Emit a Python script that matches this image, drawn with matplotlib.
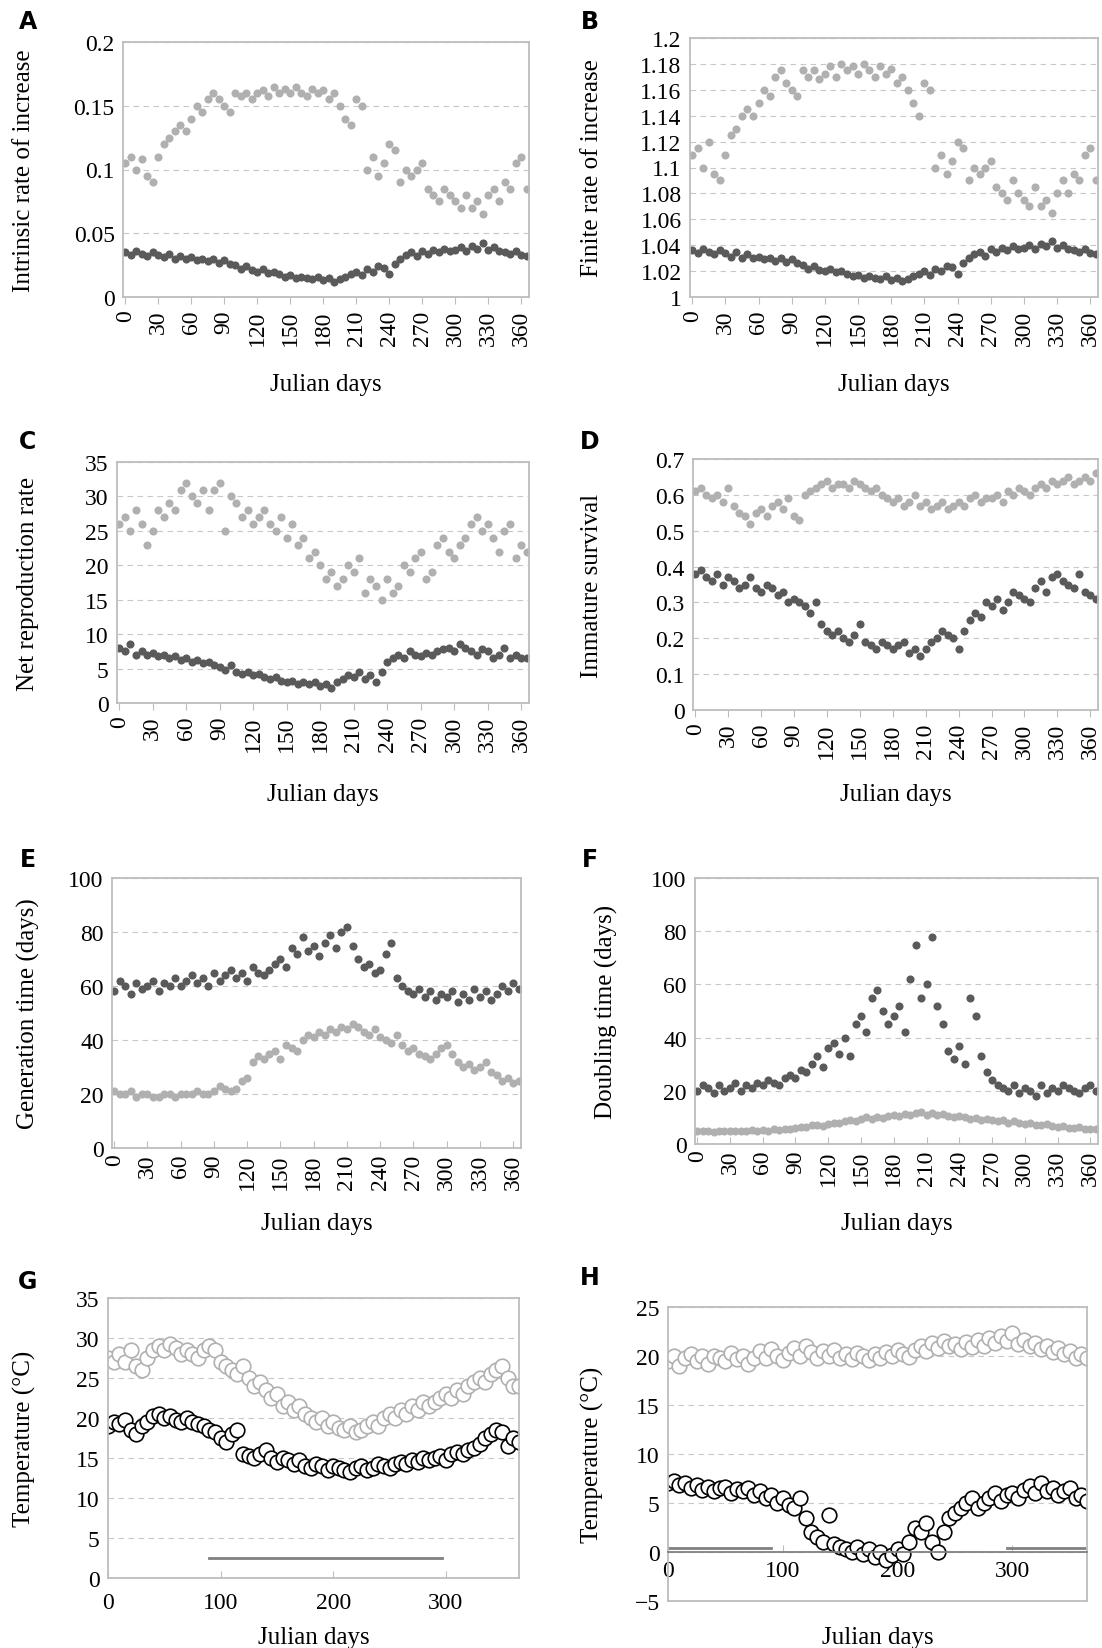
import numpy as np
import matplotlib
matplotlib.use("Agg")
import matplotlib.pyplot as plt

plt.rcParams['font.family'] = 'serif'
plt.rcParams['font.serif'] = ['Liberation Serif', 'DejaVu Serif']

A_light = [0.105,0.11,0.1,0.108,0.095,0.09,0.11,0.12,0.125,0.13,0.135,0.13,0.14,0.15,0.145,0.155,0.16,0.155,0.15,0.145,0.16,0.158,0.16,0.155,0.16,0.162,0.158,0.165,0.16,0.163,0.16,0.165,0.16,0.158,0.163,0.16,0.162,0.155,0.16,0.15,0.14,0.135,0.155,0.15,0.1,0.11,0.095,0.105,0.12,0.115,0.09,0.1,0.095,0.1,0.105,0.085,0.08,0.075,0.085,0.08,0.075,0.07,0.08,0.07,0.075,0.065,0.08,0.085,0.075,0.09,0.085,0.105,0.11,0.085]
A_dark = [0.035,0.033,0.036,0.034,0.032,0.035,0.033,0.031,0.034,0.03,0.032,0.03,0.031,0.029,0.03,0.028,0.03,0.027,0.029,0.026,0.025,0.022,0.024,0.021,0.02,0.022,0.019,0.02,0.018,0.016,0.017,0.015,0.016,0.015,0.014,0.016,0.013,0.015,0.012,0.014,0.016,0.018,0.02,0.017,0.022,0.02,0.024,0.023,0.018,0.026,0.03,0.033,0.035,0.032,0.036,0.034,0.037,0.035,0.038,0.036,0.037,0.039,0.036,0.04,0.038,0.042,0.037,0.039,0.036,0.035,0.034,0.036,0.033,0.032]
B_light = [1.11,1.115,1.1,1.12,1.095,1.09,1.11,1.125,1.13,1.14,1.145,1.14,1.15,1.16,1.155,1.17,1.175,1.165,1.16,1.155,1.175,1.17,1.175,1.168,1.172,1.178,1.17,1.18,1.175,1.178,1.172,1.18,1.175,1.17,1.178,1.172,1.176,1.165,1.17,1.16,1.15,1.14,1.165,1.16,1.1,1.11,1.095,1.105,1.12,1.115,1.09,1.1,1.095,1.1,1.105,1.085,1.08,1.075,1.09,1.08,1.075,1.07,1.085,1.07,1.075,1.065,1.08,1.09,1.08,1.095,1.09,1.11,1.115,1.09]
B_dark = [1.036,1.034,1.037,1.035,1.033,1.036,1.034,1.031,1.035,1.03,1.033,1.03,1.031,1.029,1.03,1.028,1.03,1.027,1.029,1.026,1.025,1.022,1.024,1.021,1.02,1.022,1.019,1.02,1.018,1.016,1.017,1.015,1.016,1.015,1.014,1.016,1.013,1.015,1.012,1.014,1.016,1.018,1.02,1.017,1.022,1.02,1.024,1.023,1.018,1.026,1.03,1.033,1.035,1.032,1.037,1.035,1.038,1.036,1.039,1.037,1.038,1.04,1.037,1.041,1.039,1.043,1.038,1.04,1.037,1.036,1.035,1.037,1.034,1.033]
C_light = [26,27,25,28,26,23,25,28,27,29,28,31,32,30,29,31,28,31,32,25,30,29,27,28,26,27,28,26,25,27,24,26,23,24,21,22,20,18,19,17,18,20,19,21,16,18,17,15,18,16,17,20,19,21,22,18,19,23,24,22,21,23,24,26,27,25,26,24,22,25,26,21,23,22]
C_dark = [8,7.5,8.5,7,7.5,7,7.2,6.8,7,6.5,6.8,6.2,6.5,6,6.3,5.8,6,5.5,5.2,4.8,5.5,4.5,4.2,4.5,4,4.2,3.8,3.5,3.8,3.2,3,3.2,2.8,3,2.8,3,2.5,2.8,2.2,3,3.5,4,3.8,4.5,3.5,4,3,4.5,6,6.5,7,6.5,7.5,7,6.8,7.2,7,7.5,7.8,8,7.5,8.5,8,7.5,7,7.8,7.5,6.5,7,8,6.5,7,6.5,6.5]
D_light = [0.61,0.62,0.6,0.59,0.6,0.58,0.62,0.57,0.55,0.54,0.52,0.55,0.56,0.54,0.57,0.58,0.56,0.59,0.54,0.53,0.6,0.61,0.62,0.63,0.64,0.62,0.63,0.63,0.62,0.64,0.63,0.62,0.61,0.62,0.6,0.59,0.58,0.59,0.57,0.58,0.6,0.57,0.58,0.56,0.57,0.58,0.56,0.57,0.58,0.57,0.59,0.6,0.58,0.59,0.59,0.6,0.58,0.61,0.6,0.62,0.61,0.6,0.62,0.63,0.62,0.64,0.63,0.64,0.65,0.63,0.64,0.65,0.64,0.66]
D_dark = [0.38,0.39,0.37,0.36,0.38,0.35,0.37,0.36,0.34,0.35,0.37,0.34,0.33,0.35,0.34,0.32,0.33,0.3,0.31,0.3,0.29,0.27,0.3,0.24,0.22,0.21,0.22,0.2,0.19,0.21,0.24,0.19,0.18,0.17,0.19,0.18,0.17,0.18,0.19,0.16,0.17,0.15,0.17,0.19,0.2,0.22,0.21,0.2,0.17,0.22,0.25,0.27,0.26,0.3,0.29,0.31,0.28,0.3,0.33,0.32,0.31,0.3,0.34,0.36,0.33,0.37,0.38,0.36,0.35,0.34,0.38,0.33,0.32,0.31]
E_dark = [58,62,60,57,61,59,60,62,58,61,60,63,60,62,64,61,63,60,65,62,64,66,63,65,62,67,65,64,66,68,70,67,74,72,78,73,75,71,76,79,74,80,82,75,70,67,68,65,66,72,76,63,60,58,57,59,56,58,55,57,56,58,54,57,55,59,56,58,55,57,60,58,61,59]
E_light = [21,20,20,21,19,20,20,19,19,20,20,19,20,20,20,21,20,20,21,23,22,21,22,25,26,32,34,33,35,36,33,38,37,36,40,42,41,43,42,44,43,45,44,46,45,43,42,44,41,40,39,42,38,36,37,35,34,33,35,37,38,35,32,30,31,29,30,32,28,27,25,26,24,25]
F_dark = [20,22,21,19,22,20,21,23,20,22,21,23,22,24,23,22,25,26,25,28,27,30,33,29,36,38,34,40,33,45,48,42,55,58,50,45,48,52,42,62,75,55,60,78,52,45,35,32,37,30,55,48,33,27,24,22,21,20,22,19,21,20,18,22,19,21,20,22,21,20,19,21,22,20]
F_light = [5,5,5,4.5,5,5,5,4.8,5,5,5.2,5,5.3,5,5.5,5.2,5.8,5.5,6,6.5,6.3,7,7.2,6.8,7.5,8,7.8,8.5,9,8.7,9.5,10,9.5,10,9.8,10.5,11,10.5,11.2,10.8,11.5,12,11,11.5,10.8,11.2,10.5,10,10.5,10,9.5,9.8,9,9.5,9,8.5,9,8,8.5,8,7.5,7.8,7.2,7,7.5,6.8,6.5,6.8,6.2,6,6.3,5.8,5.5,5.5]
G_light = [27.5,27,28,27,28.5,26.5,26,27.5,28.5,29,28.5,29.2,28.8,28,28.5,28,27.5,28.5,29,28.5,27,26.5,26,25.5,26.5,25,24,24.5,23.5,22.5,23,21.5,22,21,21.5,20.5,20,19.5,20,19,19.5,18.8,18.5,19,18.2,18.5,19,19.5,19,20,20.5,20,21,20.5,21.5,21,22,21.5,22,22.5,23,22.5,23.5,23,24,24.5,25,24.5,25.5,26,26.5,25,24,24]
G_dark = [19,19.5,19.3,19.8,18.5,18,19,19.5,20.2,20.5,20,20.3,19.8,19.5,20,19.5,19.3,19,18.5,18.2,17.5,17,18,18.5,15.5,15.3,15,15.5,16,15,14.5,15,14.7,14.2,14.8,14,13.8,14.3,14,13.5,14,13.8,13.5,13.3,13.8,14,13.5,13.8,14.2,14,13.8,14.3,14.5,14.2,14.8,14.5,15,14.8,15,15.3,14.8,15.5,15.8,15.5,16,16.3,16.8,17.5,18,18.5,18.2,16.5,17.5,17]
H_light = [19.5,20,19,19.8,20.2,19.5,20,19.2,20,19.8,19.5,20.3,19.7,20,19.2,19.8,20.5,19.8,20.7,20,19.6,20.3,20.8,20,21,20.4,19.8,20.5,20,20.6,19.8,20.2,19.7,20.3,20,19.6,20.2,19.8,20.4,20,20.6,20.2,19.9,20.6,21,20.5,21.3,20.8,21.5,21,21.2,20.7,21.4,20.9,21.6,21,21.8,21.3,22,21.5,22.3,21.2,21.6,21,21.3,20.7,21,20.4,20.8,20.2,20.5,19.8,20.2,19.8]
H_dark = [7,7.2,6.8,7,6.5,6.8,6.3,6.6,6.2,6.5,6.6,6,6.4,6.2,6.5,5.8,6.2,5.5,5.8,5,5.5,4.8,4.5,5.5,3.5,2,1.5,1,3.8,0.8,0.5,0.3,0,0.5,-0.2,0.3,-0.5,0,-0.8,-0.3,0.3,-0.2,1,2.5,2,3,1,0,2,3.5,4,4.5,5,5.5,4.5,5,5.5,6,5.2,5.8,6,5.5,6.3,6.7,6,7,6.2,6.5,5.8,6.2,6.5,5.5,5.8,5.2]

SERIF = 'Liberation Serif'
lg = '#b0b0b0'; dg = '#5a5a5a'; sp = '#bdbdbd'
fig = plt.figure(figsize=(11.02, 16.49), dpi=100)
W, H = 1102, 1649
def ax_at(l, t, r, b):
    return fig.add_axes([l/W, 1-b/H, (r-l)/W, (b-t)/H])
def ftxt(x, y, s, **kw):
    fig.text(x/W, 1-y/H, s, **kw)

def style(ax, tdir='out'):
    for s in ax.spines.values():
        s.set_color(sp); s.set_linewidth(1.3)
    ax.yaxis.grid(True, linestyle=(0,(5,4)), color='#c8c8c8', lw=0.8)
    ax.set_axisbelow(True)
    ax.tick_params(axis='y', length=0, labelsize=17, pad=6, labelfontfamily=SERIF)
    ax.tick_params(axis='x', length=5, color=sp, labelsize=17, pad=4, direction=tdir, labelfontfamily=SERIF)

def label_panel(letter, lx, ly, ylabel, ylx, ycen, xlabel_y, xcen):
    ftxt(lx, ly, letter, fontsize=17, fontweight='bold', family='DejaVu Sans', ha='center', va='center')
    ftxt(ylx, ycen, ylabel, fontsize=18, rotation=90, ha='center', va='center', family=SERIF)
    ftxt(xcen, xlabel_y, 'Julian days', fontsize=18, ha='center', va='center', family=SERIF)

def dots(box, light, dark, ylim, yt, ylabel, letter, fmt, lpos, ylx, xly, tdir='out'):
    ax = ax_at(*box)
    xl = np.linspace(0, 365, len(light)); xd = np.linspace(0, 365, len(dark))
    ax.scatter(xl, light, s=34, color=lg, lw=0)
    ax.scatter(xd, dark, s=34, color=dg, lw=0)
    ax.set_xlim(-2, 367); ax.set_ylim(*ylim)
    ax.set_yticks(yt)
    ax.set_yticklabels([fmt(v) for v in yt])
    ax.set_xticks(range(0, 361, 30))
    ax.set_xticklabels([str(v) for v in range(0, 361, 30)], rotation=90)
    style(ax, tdir)
    l, t, r, b = box
    label_panel(letter, lpos[0], lpos[1], ylabel, ylx, (t+b)/2, xly, (l+r)/2)
    return ax

g = lambda v: ('%g' % v)
dots((123, 43, 529, 298), A_light, A_dark, (0, 0.2), [0, 0.05, 0.1, 0.15, 0.2], 'Intrinsic rate of increase', 'A', g, (28, 22), 24, 385)
dots((690, 39, 1098, 298), B_light, B_dark, (1, 1.2), np.round(np.arange(1, 1.201, 0.02), 2), 'Finite rate of increase', 'B', g, (590, 22), 592, 385)
dots((117, 463, 529, 704), C_light, C_dark, (0, 35), range(0, 36, 5), 'Net reproduction rate', 'C', g, (28, 442), 28, 795)
dots((693, 460, 1098, 711), D_light, D_dark, (0, 0.7), np.round(np.arange(0, 0.71, 0.1), 1), 'Immature survival', 'D', g, (590, 442), 592, 795)
dots((112, 879, 521, 1149), E_light, E_dark, (0, 100), range(0, 101, 20), 'Generation time (days)', 'E', g, (28, 860), 28, 1224, tdir='in')
dots((695, 879, 1098, 1145), F_light, F_dark, (0, 100), range(0, 101, 20), 'Doubling time (days)', 'F', g, (590, 860), 606, 1224, tdir='in')

def temps(box, light, dark, ylim, yt, letter, lpos, ylx, xly):
    ax = ax_at(*box)
    xl = np.linspace(0, 365, len(light)); xd = np.linspace(0, 365, len(dark))
    ax.scatter(xl, light, s=110, facecolor='white', edgecolor='#b0b0b0', lw=1.2)
    ax.scatter(xd, dark, s=110, facecolor='white', edgecolor='black', lw=1.2)
    ax.set_xlim(0, 365); ax.set_ylim(*ylim); ax.set_yticks(yt)
    ax.set_xticks([0, 100, 200, 300])
    style(ax, 'in')
    ax.tick_params(axis='x', pad=10)
    l, t, r, b = box
    label_panel(letter, lpos[0], lpos[1], 'Temperature (°C)', ylx, (t+b)/2, xly, (l+r)/2)
    return ax

gax = temps((108, 1299, 519, 1579), G_light, G_dark, (0, 35), range(0, 36, 5), 'G', (28, 1282), 24, 1638)
gax.plot([90, 297], [2.5, 2.5], color='#808080', lw=2)
hax = temps((668, 1308, 1087, 1602), H_light, H_dark, (-5, 25), range(-5, 26, 5), 'H', (590, 1278), 592, 1638)
hax.spines['bottom'].set_position(('data', 0))
hax.spines['bottom'].set_color('#808080')
hax.axhline(-5, color=sp, lw=1.3, clip_on=False)
hax.tick_params(axis='x', pad=6)
hax.plot([0, 90], [0.4, 0.4], color='#808080', lw=2)
hax.plot([295, 365], [0.4, 0.4], color='#808080', lw=2)

fig.savefig('out.png', dpi=100)
